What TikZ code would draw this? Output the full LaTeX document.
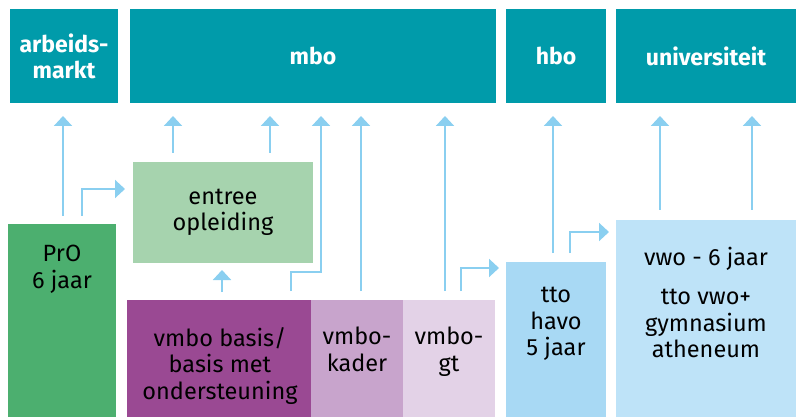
\documentclass[tikz,border=0pt]{standalone}
\usepackage{fontspec}
\setmainfont{Fira Sans}
\usetikzlibrary{arrows.meta}
\usetikzlibrary{calc}
\definecolor{headblue}{RGB}{0,155,170}
\definecolor{progreen}{RGB}{76,175,111}
\definecolor{entreegreen}{RGB}{166,211,174}
\definecolor{basispurple}{RGB}{154,73,147}
\definecolor{kaderpurple}{RGB}{200,164,204}
\definecolor{gtpurple}{RGB}{227,210,231}
\definecolor{havoblue}{RGB}{168,217,244}
\definecolor{vwoblue}{RGB}{190,227,248}
\definecolor{arrowblue}{RGB}{138,207,240}

\begin{document}
\begin{tikzpicture}[x=1pt,y=-1pt,
    box/.style={inner sep=0pt, outer sep=0pt, anchor=north west},
    head/.style={box, fill=headblue, text=white, align=center, minimum height=94pt,
        font=\bfseries\fontsize{23}{26}\selectfont},
    txt/.style={inner sep=0pt, anchor=north, align=center, font=\fontsize{23.5}{26.5}\selectfont},
    flow/.style={draw=arrowblue, line width=2pt, -{Triangle[width=18pt,length=10pt]}}]
    \useasboundingbox (0,0) rectangle (796,417);
    \node[head, minimum width=108pt] (arb) at (10,9) {arbeids-\\markt};
    \node[head, minimum width=366pt] (mbo) at (130,9) {mbo};
    \node[head, minimum width=100pt] (hbo) at (506,9) {hbo};
    \node[head, minimum width=180pt] (uni) at (616,9) {universiteit};
    \node[box, fill=progreen, minimum width=108pt, minimum height=193pt] (pro) at (8,224) {};
    \node[box, fill=entreegreen, minimum width=180pt, minimum height=101pt] (ent) at (133,162) {};
    \node[box, fill=basispurple, minimum width=184pt, minimum height=117pt] (vbb) at (127,300) {};
    \node[box, fill=kaderpurple, minimum width=92pt, minimum height=117pt] (vbk) at (311,300) {};
    \node[box, fill=gtpurple, minimum width=92pt, minimum height=117pt] (vgt) at (403,300) {};
    \node[box, fill=havoblue, minimum width=100pt, minimum height=155pt] (havo) at (506,262) {};
    \node[box, fill=vwoblue, minimum width=180pt, minimum height=197pt] (vwo) at (616,220) {};
    \node[txt] (protxt) at (62,245) {PrO\\6 jaar};
    \node[txt, anchor=center] (enttxt) at (ent.center) {entree\\opleiding};
    \node[txt] (vbbtxt) at (220,327) {vmbo basis/\\basis met\\ondersteuning};
    \node[txt] (vbktxt) at (357,327) {vmbo-\\kader};
    \node[txt] (vgttxt) at (449,327) {vmbo-\\gt};
    \node[txt] (havotxt) at (556,287) {tto\\havo\\5 jaar};
    \node[txt] (vwotxt) at (706,247) {vwo - 6 jaar\\[12.5pt]tto vwo+\\gymnasium\\atheneum};
    \coordinate (a1) at (63,216);
    \coordinate (a2) at (82,216);
    \coordinate (a3) at (173,153);
    \coordinate (a4) at (270,153);
    \coordinate (a5) at (222,292);
    \coordinate (a6) at (291,291);
    \coordinate (k6) at (321,272);
    \coordinate (a7) at (361,291);
    \coordinate (a8) at (445,291);
    \coordinate (a9) at (461,291);
    \coordinate (a10) at (553,253);
    \coordinate (a11) at (570,253);
    \coordinate (a12) at (660,210);
    \coordinate (a13) at (752,210);
    \draw[flow, shorten >=13pt] (a1) -- (a1 |- arb.south);
    \draw[flow, shorten >=8pt] (a2) |- ($(ent.north west)+(0,27)$);
    \draw[flow, shorten >=13pt] (a3) -- (a3 |- mbo.south);
    \draw[flow, shorten >=13pt] (a4) -- (a4 |- mbo.south);
    \draw[flow, shorten >=7pt] (a5) -- (a5 |- ent.south);
    \draw[flow, shorten >=13pt] (a6) |- (k6) -- (k6 |- mbo.south);
    \draw[flow, shorten >=13pt] (a7) -- (a7 |- mbo.south);
    \draw[flow, shorten >=13pt] (a8) -- (a8 |- mbo.south);
    \draw[flow, shorten >=7pt] (a9) |- ($(havo.north west)+(0,6)$);
    \draw[flow, shorten >=13pt] (a10) -- (a10 |- hbo.south);
    \draw[flow, shorten >=7pt] (a11) |- ($(vwo.north west)+(0,12)$);
    \draw[flow, shorten >=13pt] (a12) -- (a12 |- uni.south);
    \draw[flow, shorten >=13pt] (a13) -- (a13 |- uni.south);
\end{tikzpicture}
\end{document}
